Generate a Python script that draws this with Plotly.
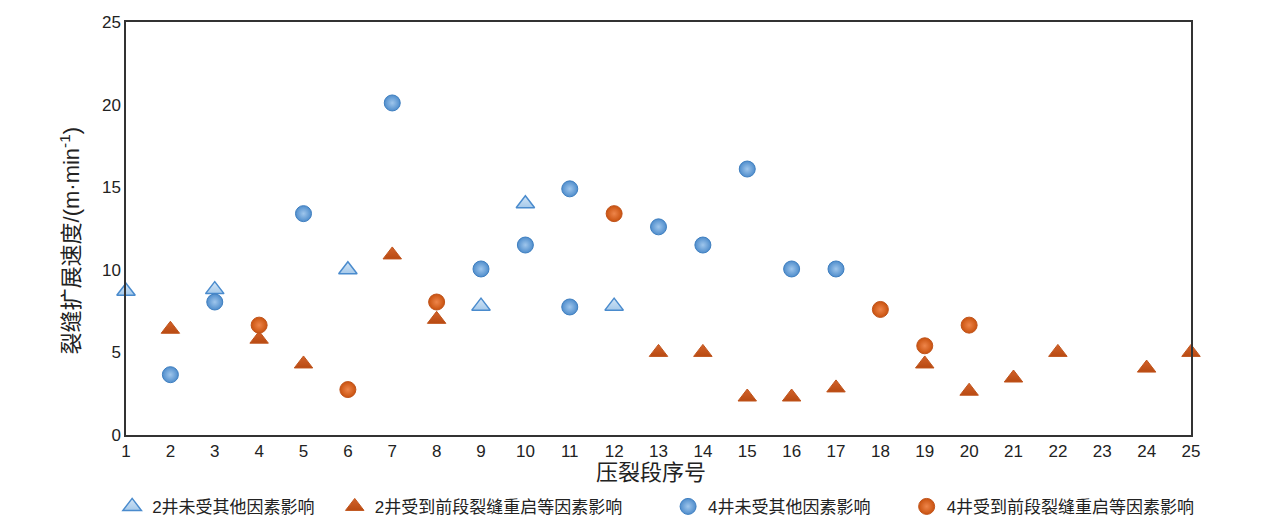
import plotly.graph_objects as go

# 压裂段序号 / 裂缝扩展速度
w2_free_x = [1, 3, 6, 9, 10, 12]
w2_free_y = [8.7, 8.8, 10.0, 7.8, 14.0, 7.8]

w2_hit_x = [2, 4, 5, 7, 8, 13, 14, 15, 16, 17, 19, 20, 21, 22, 24, 25]
w2_hit_y = [6.4, 5.8, 4.3, 10.9, 7.0, 5.0, 5.0, 2.3, 2.3, 2.85, 4.3, 2.65, 3.45, 5.0, 4.05, 5.0]

w4_free_x = [2, 3, 5, 7, 9, 10, 11, 11, 13, 14, 15, 16, 17]
w4_free_y = [3.65, 8.05, 13.4, 20.1, 10.05, 11.5, 14.9, 7.75, 12.6, 11.5, 16.1, 10.05, 10.05]

w4_hit_x = [4, 6, 8, 12, 18, 19, 20]
w4_hit_y = [6.65, 2.75, 8.05, 13.4, 7.6, 5.4, 6.65]

names = ["2井未受其他因素影响", "2井受到前段裂缝重启等因素影响",
         "4井未受其他因素影响", "4井受到前段裂缝重启等因素影响"]

FONT = "Liberation Sans, Arial, Noto Sans CJK SC"

fig = go.Figure()

# open (light) blue triangles
fig.add_trace(go.Scatter(
    x=w2_free_x, y=w2_free_y, mode='markers', name=names[0], legend='legend',
    marker=dict(symbol='triangle-up', size=16, color='#d3e5f6',
                gradient=dict(type='vertical', color='#a5c9ea'),
                line=dict(color='#4a8bcd', width=1.5)),
    cliponaxis=False))

fig.add_trace(go.Scatter(
    x=w2_hit_x, y=w2_hit_y, mode='markers', name=names[1], legend='legend2',
    marker=dict(symbol='triangle-up', size=16, color='#d2622a',
                gradient=dict(type='vertical', color='#b84a12'),
                line=dict(color='#c0541c', width=1)),
    cliponaxis=False))

# radial gradient: gradient.color is the centre colour
fig.add_trace(go.Scatter(
    x=w4_free_x, y=w4_free_y, mode='markers', name=names[2], legend='legend3',
    marker=dict(symbol='circle', size=16, color='#4f8dcc',
                gradient=dict(type='radial', color='#9fc6ec'),
                line=dict(color='#3f7fc0', width=1)),
    cliponaxis=False))

fig.add_trace(go.Scatter(
    x=w4_hit_x, y=w4_hit_y, mode='markers', name=names[3], legend='legend4',
    marker=dict(symbol='circle', size=16, color='#c9520f',
                gradient=dict(type='radial', color='#ee854a'),
                line=dict(color='#c0541c', width=1)),
    cliponaxis=False))

leg = dict(y=-0.174, yanchor='middle', xanchor='left', orientation='h',
           bgcolor='rgba(0,0,0,0)', font=dict(family=FONT, size=17, color='#222'))

fig.update_layout(
    width=1270, height=529,
    margin=dict(l=118, r=87, t=14, b=102, autoexpand=False),
    plot_bgcolor='white', paper_bgcolor='white',
    font=dict(family=FONT, color='#222'),
    showlegend=True,
    legend=dict(leg, x=-0.013),
    legend2=dict(leg, x=0.196),
    legend3=dict(leg, x=0.509),
    legend4=dict(leg, x=0.733),
    xaxis=dict(range=[1, 25], dtick=1, tick0=1, showgrid=False, zeroline=False,
               showline=True, linecolor='#333', linewidth=1.5, mirror=True,
               ticks='', tickfont=dict(size=17)),
    yaxis=dict(range=[0, 25], dtick=5, showgrid=False, zeroline=False,
               showline=True, linecolor='#333', linewidth=1.5, mirror=True,
               ticks='', tickfont=dict(size=17)),
    annotations=[
        dict(text='压裂段序号', xref='paper', yref='paper', x=0.493, y=-0.092,
             xanchor='center', yanchor='middle', showarrow=False,
             font=dict(size=22)),
        dict(text='裂缝扩展速度/(m·min<sup>-1</sup>)', xref='paper', yref='paper',
             x=-0.053, y=0.47, xanchor='center', yanchor='middle', textangle=-90,
             showarrow=False, font=dict(size=22)),
    ],
)

fig.write_html("out.html")
